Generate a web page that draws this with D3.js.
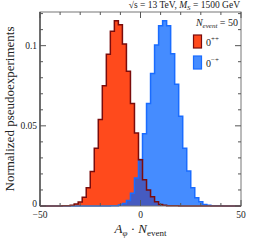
<!DOCTYPE html>
<html><head><meta charset="utf-8">
<script src="https://d3js.org/d3.v7.min.js"></script>
<style>body{margin:0;background:#fff}svg{display:block}</style>
</head><body>
<script>
// Data
const redCenters = [-38,-36,-34,-32,-30,-28,-26,-24,-22,-20,-18,-16,-14,-12,-10,-8,-6,-4,-2,0,2,4,6,8,10,12,14,16,18];
const redValues  = [0.0001,0.0002,0.0005,0.0012,0.0025,0.0054,0.0114,0.0215,0.036,0.054,0.075,0.0946,0.109,0.1156,0.113,0.101,0.084,0.064,0.0456,0.0288,0.0163,0.010,0.0058,0.0027,0.001,0.0004,0.0002,0.0001,0.0001];
const blueCenters = [-14,-12,-10,-8,-6,-4,-2,0,2,4,6,8,10,12,14,16,18,20,22,24,26,28,30,32,34,36,38,40];
const blueValues  = [0.0001,0.0002,0.0006,0.0015,0.0035,0.008,0.0175,0.029,0.045,0.064,0.0827,0.1004,0.1125,0.1156,0.1125,0.095,0.076,0.056,0.036,0.0219,0.0114,0.0052,0.0027,0.0010,0.0005,0.0002,0.0001,0.0001];
const binWidth = 2;
const xMajorTicks = [-50, 0, 50];
const xMinorTicks = [-40,-30,-20,-10,10,20,30,40];
const yMajorTicks = [0, 0.05, 0.1];
const yTickLabels = ["0", "0.05", "0.1"];
const yMinorTicks = [0.01,0.02,0.03,0.04,0.06,0.07,0.08,0.09,0.11,0.12];

const W = 256, H = 244;
const m = {left: 40, right: 15, top: 12, bottom: 38};
const svg = d3.select("body").append("svg").attr("width", W).attr("height", H)
  .style("font-family", "'Liberation Serif', 'DejaVu Serif', serif");

const x = d3.scaleLinear().domain([-50, 50]).range([m.left, W - m.right]);
const y = d3.scaleLinear().domain([0, 0.121]).range([H - m.bottom, m.top]);

function stepPoints(centers, values) {
  const pts = [[x.domain()[0], 0], [centers[0] - binWidth/2, 0]];
  centers.forEach((c, i) => {
    pts.push([c - binWidth/2, values[i]]);
    pts.push([c + binWidth/2, values[i]]);
  });
  pts.push([centers[centers.length-1] + binWidth/2, 0]);
  pts.push([x.domain()[1], 0]);
  return pts;
}
const area = d3.area().x(d => x(d[0])).y0(y(0)).y1(d => y(d[1]));
const line = d3.line().x(d => x(d[0])).y(d => y(d[1]));

const redPts = stepPoints(redCenters, redValues);
const bluePts = stepPoints(blueCenters, blueValues);

const g = svg.append("g");
g.append("path").attr("d", area(redPts)).attr("fill", "#ff4a1c");
g.append("path").attr("d", area(bluePts)).attr("fill", "#0061ff").attr("fill-opacity", 0.73);
g.append("path").attr("d", line(bluePts)).attr("fill", "none").attr("stroke", "#1a6cff").attr("stroke-width", 1.5);
g.append("path").attr("d", line(redPts)).attr("fill", "none").attr("stroke", "#7a0c0c").attr("stroke-width", 1.5);

// Frame
const x0 = x.range()[0], x1 = x.range()[1], y0 = y.range()[0], y1 = y.range()[1];
const axisColor = "#555";
svg.append("rect").attr("x", x0).attr("y", y1).attr("width", x1 - x0).attr("height", y0 - y1)
  .attr("fill", "none").attr("stroke", "#777").attr("stroke-width", 1);
svg.append("line").attr("x1", x0).attr("x2", x0).attr("y1", y1).attr("y2", y0).attr("stroke", "#222");

// ticks
const tk = svg.append("g").attr("stroke", axisColor).attr("stroke-width", 1);
xMajorTicks.forEach(v => {
  tk.append("line").attr("x1", x(v)).attr("x2", x(v)).attr("y1", y0).attr("y2", y0 - 6);
  tk.append("line").attr("x1", x(v)).attr("x2", x(v)).attr("y1", y1).attr("y2", y1 + 6);
});
xMinorTicks.forEach(v => {
  tk.append("line").attr("x1", x(v)).attr("x2", x(v)).attr("y1", y0).attr("y2", y0 - 3);
  tk.append("line").attr("x1", x(v)).attr("x2", x(v)).attr("y1", y1).attr("y2", y1 + 3);
});
yMajorTicks.forEach(v => {
  tk.append("line").attr("x1", x0).attr("x2", x0 + 6).attr("y1", y(v)).attr("y2", y(v));
  tk.append("line").attr("x1", x1).attr("x2", x1 - 6).attr("y1", y(v)).attr("y2", y(v));
});
yMinorTicks.forEach(v => {
  tk.append("line").attr("x1", x0).attr("x2", x0 + 3).attr("y1", y(v)).attr("y2", y(v));
  tk.append("line").attr("x1", x1).attr("x2", x1 - 3).attr("y1", y(v)).attr("y2", y(v));
});

// tick labels
xMajorTicks.forEach(v => {
  svg.append("text").attr("x", x(v)).attr("y", y0 + 12).attr("text-anchor", "middle")
    .attr("font-size", 9.5).attr("fill", "#222").text(v < 0 ? "\u2212" + Math.abs(v) : String(v));
});
yMajorTicks.forEach((v, i) => {
  svg.append("text").attr("x", x0 - 3).attr("y", y(v) + (v === 0 ? 1 : 3)).attr("text-anchor", "end")
    .attr("font-size", 9.5).attr("fill", "#222").text(yTickLabels[i]);
});

// axis titles
svg.append("text").attr("transform", `translate(14, ${(y0 + y1)/2}) rotate(-90)`)
  .attr("text-anchor", "middle").attr("font-size", 13).attr("fill", "#222")
  .text("Normalized pseudoexperiments");

const xt = svg.append("text").attr("x", (x0 + x1)/2).attr("y", 233).attr("text-anchor", "middle")
  .attr("font-size", 13).attr("fill", "#222");
xt.append("tspan").attr("font-style", "italic").text("A");
xt.append("tspan").attr("font-style", "italic").attr("font-size", 9).attr("dy", 3).text("\u03c6");
xt.append("tspan").attr("dy", -3).text(" \u00b7 ");
xt.append("tspan").attr("font-style", "italic").text("N");
xt.append("tspan").attr("font-size", 9).attr("dy", 3).text("event");

// top title
const tt = svg.append("text").attr("x", 240).attr("y", 8).attr("text-anchor", "end")
  .attr("font-size", 9.5).attr("fill", "#222");
tt.append("tspan").text("\u221as = 13 TeV, ");
tt.append("tspan").attr("font-style", "italic").text("M");
tt.append("tspan").attr("font-style", "italic").attr("font-size", 7).attr("dy", 2).text("S");
tt.append("tspan").attr("dy", -2).text(" = 1500 GeV");

// legend
const lg = svg.append("text").attr("x", 238).attr("y", 26).attr("text-anchor", "end")
  .attr("font-size", 10).attr("fill", "#222");
lg.append("tspan").attr("font-style", "italic").text("N");
lg.append("tspan").attr("font-style", "italic").attr("font-size", 7).attr("dy", 2).text("event");
lg.append("tspan").attr("dy", -2).text(" = 50");

const legendItems = [
  {label: "0", sup: "++", fill: "#ff4a1c", stroke: "#7a0c0c", op: 1, y: 35},
  {label: "0", sup: "\u2212+", fill: "#0061ff", stroke: "#1a6cff", op: 0.73, y: 56}
];
legendItems.forEach(d => {
  svg.append("rect").attr("x", 193.5).attr("y", d.y).attr("width", 8).attr("height", 13)
    .attr("fill", d.fill).attr("fill-opacity", d.op).attr("stroke", d.stroke).attr("stroke-width", 1.2);
  const t = svg.append("text").attr("x", 206).attr("y", d.y + 11).attr("font-size", 10).attr("fill", "#222");
  t.append("tspan").text(d.label);
  t.append("tspan").attr("font-size", 7).attr("dy", -5).text(d.sup);
});
</script>
</body></html>
